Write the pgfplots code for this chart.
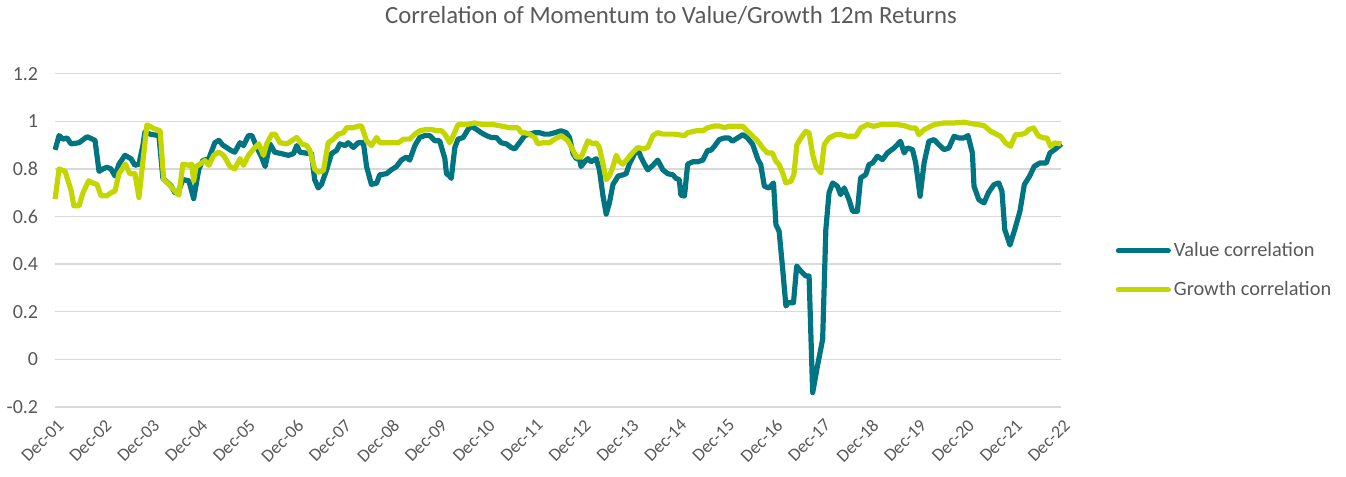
\documentclass[border=0pt]{standalone}
\usepackage{pgfplots}
\pgfplotsset{compat=1.18}
\usepackage{fontspec}
\setmainfont{Carlito}
\definecolor{valcol}{RGB}{0,116,128}
\definecolor{grocol}{RGB}{196,214,0}
\definecolor{gridcol}{RGB}{217,217,217}
\definecolor{txtcol}{RGB}{89,89,89}
\begin{document}
\begin{tikzpicture}
\begin{axis}[
  name=ax,
  scale only axis,
  width=504pt, height=166.9pt,
  xmin=0, xmax=252, ymin=-0.2, ymax=1.2,
  axis line style={draw=none},
  major tick length=0pt,
  ytick={-0.2,0,0.2,0.4,0.6,0.8,1,1.2},
  yticklabels={-0.2,0,0.2,0.4,0.6,0.8,1,1.2},
  xtick={0,12,...,252},
  xticklabels={Dec-01,Dec-02,Dec-03,Dec-04,Dec-05,Dec-06,Dec-07,Dec-08,Dec-09,Dec-10,Dec-11,Dec-12,Dec-13,Dec-14,Dec-15,Dec-16,Dec-17,Dec-18,Dec-19,Dec-20,Dec-21,Dec-22},
  ymajorgrids,
  grid style={draw=gridcol, line width=0.75pt},
  yticklabel style={font=\fontsize{10}{12}\selectfont, text=txtcol, xshift=-5pt},
  xticklabel style={font=\fontsize{9}{11}\selectfont, text=txtcol, rotate=45, anchor=north east, yshift=-1pt},
  title={Correlation of Momentum to Value/Growth 12m Returns},
  title style={at={(axis description cs:0.612,1)}, anchor=center, yshift=23pt, font=\fontsize{12.4}{15}\selectfont, text=txtcol},
  legend style={at={(axis description cs:1.0536,0.41)}, anchor=west, draw=none, fill=none, inner sep=0pt, row sep=8pt, nodes={inner sep=1.5pt, text=txtcol}, font=\fontsize{10.2}{12}\selectfont, cells={anchor=west}},
  legend image code/.code={\draw[#1, line cap=round] (0pt,0pt) -- (25pt,0pt);},
  every axis plot/.append style={line width=2.6pt, line join=round},
  clip=false,
]
\addplot[valcol] coordinates {
(0,0.88) (1,0.94) (2,0.925) (3,0.93) (4,0.905) (6,0.91) (8,0.935) (10,0.92) (11,0.79) (12,0.80) (13,0.807) (14,0.80) (15,0.77) (16,0.82) (17.5,0.857) (19,0.843) (20,0.815) (21,0.82) (22,0.90) (22.5,0.955) (24,0.945) (26,0.94) (27,0.76) (29,0.73) (30,0.70) (31,0.71) (32,0.755) (33.5,0.75) (34.7,0.675) (36,0.80) (37,0.835) (38.5,0.843) (40,0.91) (41,0.92)
(42,0.90) (44,0.878) (45,0.87) (46.3,0.91) (47.2,0.898) (48.4,0.94) (49.3,0.94) (50.5,0.89) (51.7,0.85) (52.6,0.81) (53.8,0.905) (55,0.87) (56.7,0.864) (58.4,0.857) (59.7,0.864) (60.5,0.898) (61.3,0.87) (63,0.866) (64.2,0.864) (65,0.755) (65.9,0.72) (66.7,0.735) (68,0.796) (69.2,0.864) (70.5,0.878) (71.3,0.905) (72.6,0.898) (73.4,0.91) (74.7,0.89) (75.9,0.91) (77.2,0.91) (78,0.81) (79.2,0.735) (80.5,0.74) (81.3,0.775) (83,0.78)
(84.2,0.796) (85.5,0.81) (86.7,0.837) (88,0.85) (88.8,0.837) (90.1,0.898) (91.3,0.932) (92.6,0.94) (93.8,0.94) (95.1,0.918) (96.3,0.918) (97.6,0.843) (98,0.78) (98.8,0.77) (99.2,0.76) (100.1,0.89) (100.9,0.925) (102.2,0.932) (103.4,0.966) (104.2,0.98) (105.5,0.966) (106.7,0.952) (108,0.94) (109.2,0.932) (110.5,0.932) (111.7,0.91) (113,0.905) (114.2,0.89) (115.1,0.884) (116.3,0.91) (117.6,0.94) (118.8,0.946) (120.1,0.952) (121.3,0.952) (122.6,0.946) (123.8,0.946) (125.1,0.952)
(126.7,0.96) (128,0.952) (128.8,0.932) (129.7,0.864) (130.5,0.843) (131.3,0.843) (131.7,0.81) (132.6,0.83) (133.4,0.843) (134.2,0.83) (135.5,0.843) (136.3,0.796) (137.2,0.686) (138,0.61) (138.8,0.657) (139.7,0.735) (141,0.77) (142.2,0.775) (143,0.78) (143.8,0.82) (145.1,0.864) (146,0.878) (146.7,0.85) (147.6,0.82) (148.4,0.796) (149.7,0.815) (150.9,0.837) (152.2,0.796) (153.4,0.78) (154.7,0.775) (155.5,0.76) (156.3,0.755) (156.7,0.69) (157.6,0.686) (158.4,0.82) (159.7,0.83) (160.9,0.83) (162.2,0.837) (163.4,0.878) (164.2,0.878) (165.1,0.895) (166.3,0.923) (167.6,0.93)
(168.7,0.93) (169.6,0.916) (170.9,0.93) (172.2,0.944) (173.4,0.93) (174.7,0.902) (176,0.839) (176.7,0.818) (177.6,0.727) (178.8,0.72) (179.9,0.741) (180.5,0.566) (181.3,0.538) (182.2,0.378) (183,0.224) (183.6,0.238) (184.9,0.238) (185.7,0.392) (186.7,0.371) (188,0.35) (188.8,0.35) (189.7,-0.14) (190.9,-0.028) (192.2,0.084) (193,0.545) (193.8,0.70) (194.7,0.741) (195.9,0.727) (196.7,0.692) (197.6,0.72) (198.8,0.671) (199.7,0.622) (200.9,0.622) (201.7,0.762) (203,0.776) (203.8,0.818) (204.7,0.825) (205.9,0.853) (207.2,0.839) (208.4,0.867) (210.1,0.888)
(211.7,0.916) (212.6,0.867) (213.4,0.888) (214.7,0.881) (215.5,0.825) (216.6,0.685) (217.6,0.825) (218.8,0.916) (220.1,0.923) (221.3,0.902) (222.6,0.881) (223.8,0.888) (225.1,0.937) (226.3,0.93) (227.6,0.93) (228.6,0.94) (229.7,0.867) (230.1,0.727) (231.3,0.671) (232.6,0.657) (233.7,0.70) (235.1,0.734) (236.3,0.741) (237.1,0.706) (237.8,0.545) (239.1,0.48) (240.3,0.545) (241.6,0.622) (242.7,0.734) (244,0.769) (245.2,0.811) (246.6,0.825) (248.2,0.825) (249.1,0.867) (250.3,0.881) (252,0.905)
};
\addlegendentry{Value correlation}
\addplot[grocol] coordinates {
(0,0.673) (1,0.80) (2.5,0.79) (4,0.71) (4.7,0.645) (6,0.645) (7,0.70) (8.4,0.75) (9.5,0.74) (10.5,0.735) (11.5,0.687) (13,0.687) (14,0.70) (15,0.707) (16,0.78) (17.6,0.82) (18.7,0.78) (20,0.78) (21,0.68) (23,0.985) (24.7,0.97) (26.3,0.96) (27.2,0.755) (28.5,0.735) (30,0.707) (31,0.69) (32,0.82) (33.5,0.815) (34.2,0.82) (34.7,0.75) (35.3,0.81) (36.3,0.82) (37.5,0.835) (38.5,0.815) (39.7,0.857) (41,0.87)
(42.2,0.857) (43.8,0.81) (45,0.80) (46.3,0.843) (47.2,0.815) (48.4,0.857) (49.7,0.884) (51,0.905) (52.2,0.857) (53,0.905) (54.25,0.946) (55.1,0.946) (56.3,0.91) (58,0.905) (59.25,0.918) (60.5,0.932) (61.75,0.905) (63,0.898) (63.8,0.878) (65,0.80) (65.9,0.786) (67.2,0.793) (68.4,0.91) (69.7,0.925) (70.9,0.946) (72.2,0.952) (73,0.973) (74.7,0.973) (76,0.98) (76.75,0.98) (78,0.918) (79.25,0.898) (80.5,0.932) (81.3,0.91) (83,0.91)
(84.7,0.91) (86,0.91) (87.2,0.925) (88.8,0.925) (90.1,0.946) (91.3,0.96) (93,0.966) (94.25,0.966) (95.5,0.96) (96.75,0.96) (97.6,0.946) (98.8,0.91) (99.7,0.94) (100.9,0.986) (103,0.986) (105,0.993) (107.2,0.986) (109.7,0.986) (111.75,0.98) (113.8,0.973) (115.9,0.973) (116.75,0.952) (117.6,0.952) (118.8,0.946) (120.1,0.932) (120.9,0.905) (122.2,0.91) (123.8,0.91) (125.1,0.925) (126.75,0.94)
(128.4,0.918) (129.7,0.878) (130.5,0.85) (131.75,0.85) (132.6,0.884) (133.4,0.918) (134.7,0.905) (135.5,0.91) (136.3,0.89) (137.2,0.82) (138,0.755) (138.8,0.77) (139.7,0.81) (140.5,0.857) (141.3,0.83) (142.2,0.82) (143.4,0.843) (144.7,0.87) (145.9,0.89) (147.2,0.884) (148.4,0.89) (149.7,0.94) (150.9,0.952) (152.2,0.946) (153.8,0.946) (155.1,0.946) (156.3,0.943) (157.6,0.94) (158.4,0.952) (160.5,0.96) (162.2,0.96) (163.4,0.973) (165.1,0.98) (166.3,0.98) (167.6,0.973)
(168.75,0.979) (170.9,0.979) (172.2,0.979) (173.4,0.958) (174.7,0.937) (176,0.916) (177.2,0.888) (178.4,0.867) (179.6,0.867) (180.5,0.832) (181.3,0.818) (182.2,0.783) (183,0.741) (184.25,0.748) (185,0.776) (185.75,0.902) (186.75,0.93) (188,0.958) (188.8,0.951) (189.7,0.86) (190.5,0.811) (191.75,0.783) (192.6,0.902) (193.8,0.93) (195.5,0.944) (196.75,0.944) (198.4,0.937) (200.5,0.937) (201.75,0.972) (203.4,0.986) (205,0.979) (206.75,0.986) (208.75,0.986) (210.9,0.986)
(212.6,0.982) (214.25,0.972) (215.5,0.972) (216.3,0.944) (217.6,0.965) (220.1,0.986) (222.6,0.993) (225.1,0.993) (227.6,0.996) (230,0.989) (232.6,0.982) (234.25,0.958) (236.75,0.937) (238,0.909) (239.25,0.895) (240.5,0.944) (241.75,0.944) (243,0.951) (243.8,0.965) (245,0.972) (246.3,0.937) (247.6,0.93) (248.4,0.93) (249.25,0.895) (250.3,0.909) (252,0.905)
};
\addlegendentry{Growth correlation}
\end{axis}
\path ([xshift=-26.5pt,yshift=-34.65pt]ax.south west) rectangle ([xshift=142.5pt,yshift=34pt]ax.north east);
\end{tikzpicture}
\end{document}
